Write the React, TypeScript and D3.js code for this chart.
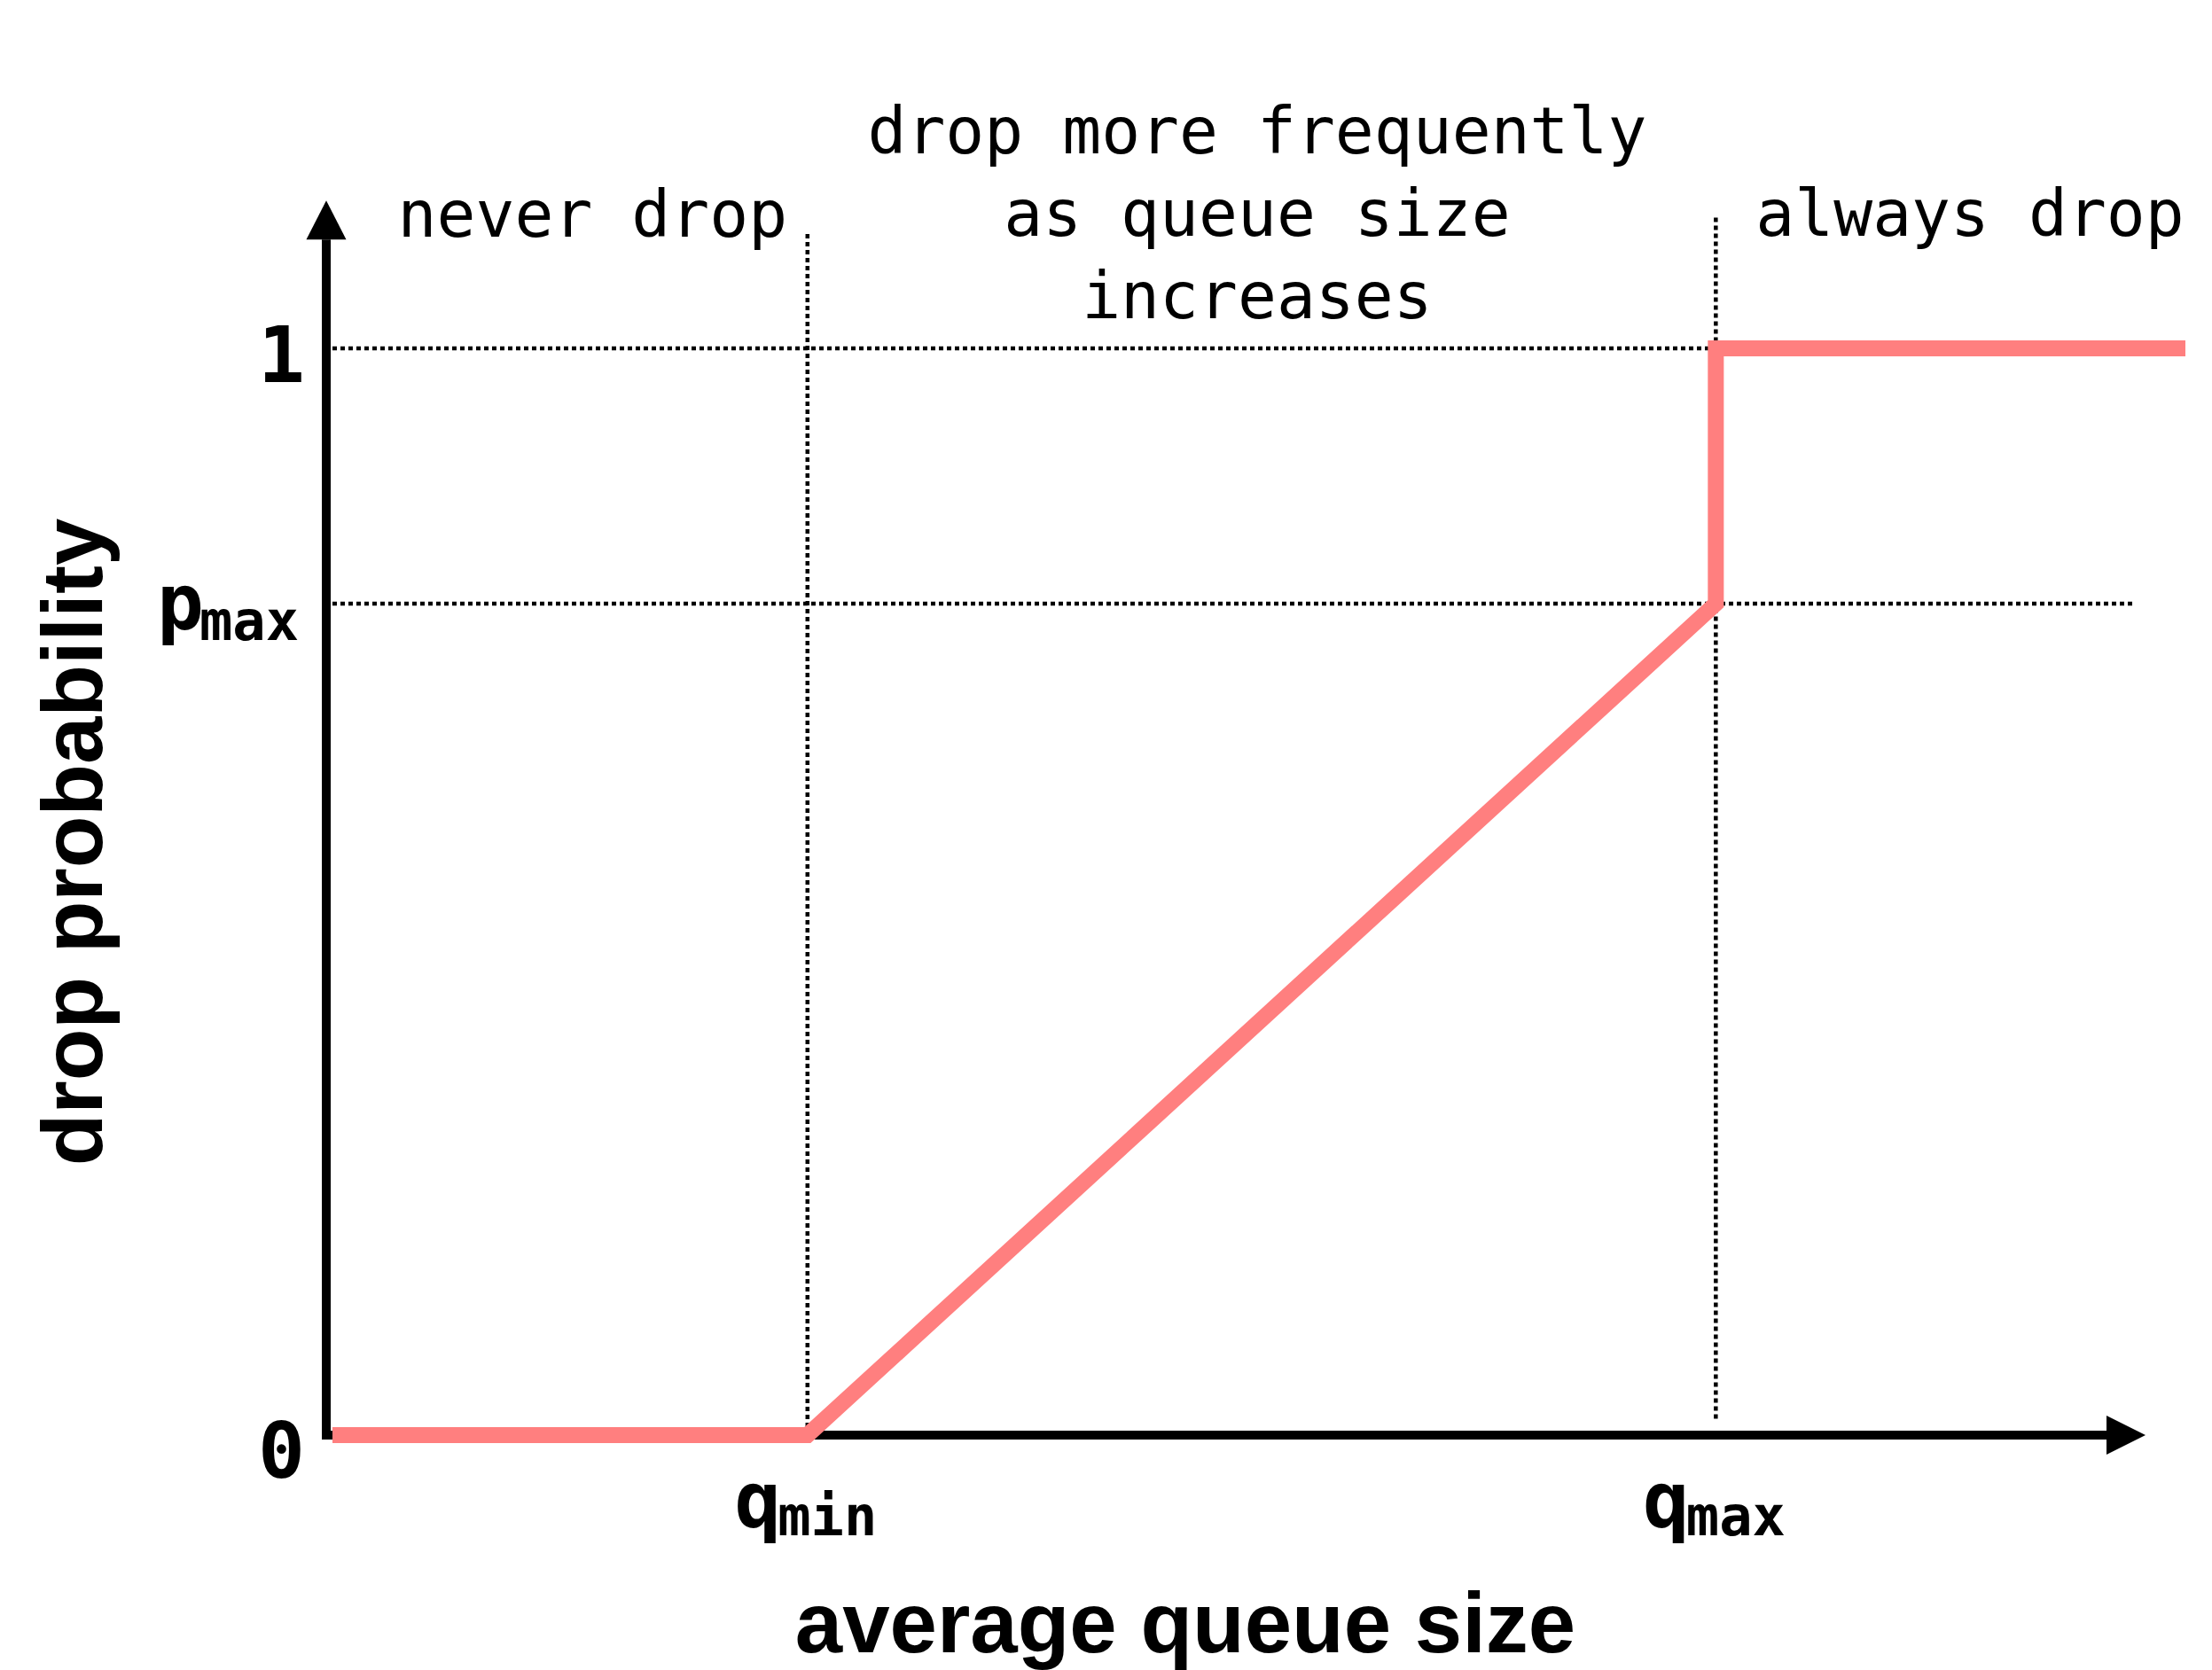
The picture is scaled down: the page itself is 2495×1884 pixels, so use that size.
import React, { useEffect, useRef } from 'react';
import * as d3 from 'd3';

// RED-style drop curve: average queue size -> drop probability
const queueSize = [0, 26.2, 76.3, 76.3, 102.2];
const dropProb = [0, 0, 0.765, 1, 1];

// y ticks (0, p_max, 1)
const yTickValues = [0, 0.765, 1];
const yTickMain = ['0', 'p', '1'];
const yTickSub = ['', 'max', ''];

// x ticks (q_min, q_max)
const xTickValues = [26.2, 76.3];
const xTickMain = ['q', 'q'];
const xTickSub = ['min', 'max'];

// region notes above the plot
const neverText = ['never drop'];
const rampText = ['drop more frequently', 'as queue size', 'increases'];
const alwaysText = ['always drop'];

const xTitle = 'average queue size';
const yTitle = 'drop probability';

const W = 2495;
const H = 1884;
const MONO = '"DejaVu Sans Mono", monospace';
const SANS = '"Liberation Sans", Arial, sans-serif';
const RED = '#ff7f7f';

export default function App() {
  const svgRef = useRef(null);

  useEffect(() => {
    document.body.style.margin = '0';
    const svg = d3.select(svgRef.current);
    svg.selectAll('*').remove();

    const x = d3.scaleLinear().domain([0, 100]).range([375, 2420]);
    const y = d3.scaleLinear().domain([0, 1]).range([1619, 393]);
    const axisX = x(0) - 7;
    const yTop = y(1.136);
    const head = 44;

    // axes with arrow heads
    svg.append('line')
      .attr('x1', axisX).attr('x2', axisX)
      .attr('y1', y(0) + 4).attr('y2', yTop + head)
      .attr('stroke', '#000').attr('stroke-width', 10);
    svg.append('path')
      .attr('d', `M${axisX - 22.5},${yTop + head}L${axisX + 22.5},${yTop + head}L${axisX},${yTop}Z`)
      .attr('fill', '#000');
    svg.append('line')
      .attr('x1', axisX - 5).attr('x2', x(100) - head)
      .attr('y1', y(0)).attr('y2', y(0))
      .attr('stroke', '#000').attr('stroke-width', 10);
    svg.append('path')
      .attr('d', `M${x(100) - head},${y(0) - 22}L${x(100) - head},${y(0) + 22}L${x(100)},${y(0)}Z`)
      .attr('fill', '#000');

    // dotted guides
    const guides = [
      [0, 1, xTickValues[1], 1],
      [0, yTickValues[1], 99.4, yTickValues[1]],
      [xTickValues[0], 0, xTickValues[0], 1.106],
      [xTickValues[1], 0.015, xTickValues[1], 1.121],
    ];
    svg.selectAll('.guide')
      .data(guides)
      .enter().append('line')
      .attr('class', 'guide')
      .attr('x1', d => x(d[0])).attr('y1', d => y(d[1]))
      .attr('x2', d => x(d[2])).attr('y2', d => y(d[3]))
      .attr('stroke', '#000')
      .attr('stroke-width', 4.5)
      .attr('stroke-dasharray', '5 4');

    // the curve
    const line = d3.line<number>()
      .x((d, i) => x(queueSize[i]))
      .y(d => y(d));
    svg.append('path')
      .attr('d', line(dropProb))
      .attr('fill', 'none')
      .attr('stroke', RED)
      .attr('stroke-width', 18)
      .attr('stroke-linejoin', 'miter')
      .attr('stroke-linecap', 'butt');

    // y tick labels
    const yTickDy = [48, 29, 38];
    const yTickDx = [-2, -9, -2];
    yTickValues.forEach((v, i) => {
      const t = svg.append('text')
        .attr('x', 346 + yTickDx[i])
        .attr('y', y(v) + yTickDy[i])
        .attr('text-anchor', 'end')
        .style('font-family', MONO)
        .style('font-weight', 'bold')
        .style('font-size', '88px');
      t.append('tspan').text(yTickMain[i]);
      if (yTickSub[i]) {
        t.append('tspan').attr('dy', 12).attr('dx', -5)
          .style('font-size', '62px').text(yTickSub[i]);
      }
    });

    // x tick labels
    xTickValues.forEach((v, i) => {
      const t = svg.append('text')
        .attr('x', x(v) - 2)
        .attr('y', y(0) + 104)
        .attr('text-anchor', 'middle')
        .style('font-family', MONO)
        .style('font-weight', 'bold')
        .style('font-size', '88px');
      t.append('tspan').text(xTickMain[i]);
      t.append('tspan').attr('dy', 9).attr('dx', -4)
        .style('font-size', '62px').text(xTickSub[i]);
    });

    // region notes
    const note = (lines, xPos, anchor, y0) => {
      lines.forEach((s, i) => {
        svg.append('text')
          .attr('x', xPos)
          .attr('y', y0 + i * 93)
          .attr('text-anchor', anchor)
          .style('font-family', MONO)
          .style('font-size', '73px')
          .text(s);
      });
    };
    note(neverText, x(3.6), 'start', 267);
    note(rampText, x(51), 'middle', 173);
    note(alwaysText, x(78.5), 'start', 266);

    // axis titles
    svg.append('text')
      .attr('x', 1337).attr('y', 1864)
      .attr('text-anchor', 'middle')
      .style('font-family', SANS)
      .style('font-weight', 'bold')
      .style('font-size', '96px')
      .text(xTitle);
    svg.append('text')
      .attr('transform', 'translate(115,950) rotate(-90)')
      .attr('text-anchor', 'middle')
      .style('font-family', SANS)
      .style('font-weight', 'bold')
      .style('font-size', '96px')
      .text(yTitle);
  }, []);

  return (
    <svg ref={svgRef} width={W} height={H} style={{ display: 'block', background: '#fff' }}></svg>
  );
}
